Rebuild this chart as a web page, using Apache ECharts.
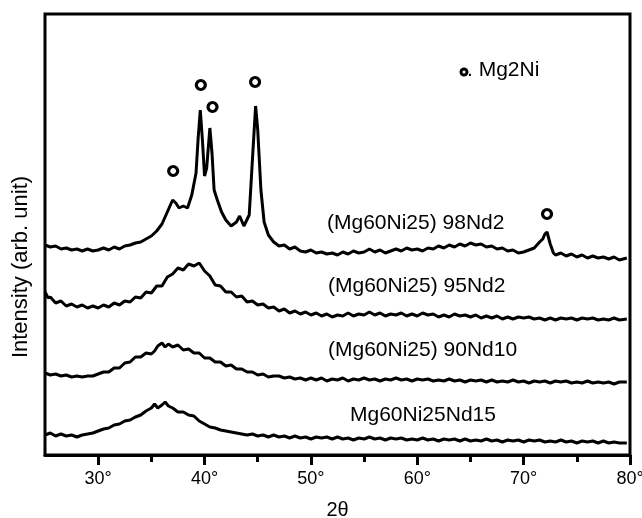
<!DOCTYPE html>
<html>
<head>
<meta charset="utf-8">
<title>XRD</title>
<script src="https://cdn.jsdelivr.net/npm/echarts@6/dist/echarts.min.js"></script>
<style>
	html, body { margin: 0; padding: 0; background: #fff; }
	#main { width: 642px; height: 518px; }
</style>
</head>
<body>
<div id="main"></div>
<script>
// 2θ 刻度
var majorTicks = [30, 40, 50, 60, 70, 80];
var minorTicks = [35, 45, 55, 65, 75];

// 各样品的衍射曲线 [2θ, 强度]
var xrd98Nd2 = [
	[25, 213], [25.5, 211], [26, 212], [26.5, 209], [27, 210], [27.5, 208], [28, 209], [28.5, 207],
	[29, 209], [29.5, 207], [30, 208], [30.5, 210], [31, 208], [31.5, 211], [32, 209], [32.5, 212],
	[33, 213], [33.5, 215], [34, 216], [34.5, 219], [35, 222], [35.5, 227], [36, 234], [36.5, 246],
	[37, 258], [37.3, 255], [37.6, 250], [38, 252], [38.4, 250], [38.8, 263], [39.2, 285], [39.4, 320],
	[39.6, 348], [39.8, 318], [40, 282], [40.2, 290], [40.5, 330], [40.7, 305], [40.9, 268], [41.2, 258],
	[41.6, 246], [42, 238], [42.5, 232], [43, 236], [43.3, 242], [43.7, 232], [44.2, 243], [44.5, 298],
	[44.8, 352], [45, 328], [45.3, 268], [45.6, 236], [46, 223], [46.5, 216], [47, 212], [47.5, 213],
	[48, 209], [48.5, 211], [49, 207], [49.5, 206], [50, 208], [50.5, 205], [51, 206], [51.5, 204],
	[52, 205], [52.5, 203], [53, 206], [53.5, 204], [54, 207], [54.5, 205], [55, 206], [55.5, 209],
	[56, 206], [56.5, 208], [57, 205], [57.5, 207], [58, 209], [58.5, 207], [59, 210], [59.5, 208],
	[60, 209], [60.5, 207], [61, 210], [61.5, 209], [62, 212], [62.5, 210], [63, 213], [63.5, 211],
	[64, 214], [64.5, 212], [65, 215], [65.5, 213], [66, 214], [66.5, 211], [67, 212], [67.5, 209],
	[68, 210], [68.5, 207], [69, 208], [69.5, 205], [70, 206], [70.5, 208], [71, 210], [71.5, 216],
	[71.8, 219], [72, 224], [72.2, 226], [72.5, 214], [72.8, 205], [73, 203], [73.5, 205], [74, 202],
	[74.5, 204], [75, 201], [75.5, 203], [76, 200], [76.5, 202], [77, 200], [77.5, 201], [78, 199],
	[78.5, 201], [79, 198], [79.7, 200]
];
var xrd95Nd2 = [
	[25, 166], [25.3, 160], [25.5, 161], [26, 155], [26.5, 157], [27, 152], [27.5, 154], [28, 151],
	[28.5, 153], [29, 150], [29.5, 152], [30, 150], [30.5, 153], [31, 151], [31.5, 155], [32, 153],
	[32.5, 157], [33, 156], [33.5, 161], [34, 160], [34.5, 166], [35, 165], [35.5, 172], [36, 172],
	[36.5, 181], [37, 184], [37.5, 190], [38, 188], [38.5, 194], [39, 192], [39.5, 195], [40, 187],
	[40.5, 182], [41, 173], [41.5, 172], [42, 166], [42.5, 166], [43, 161], [43.5, 162], [44, 156],
	[44.5, 157], [45, 153], [45.5, 154], [46, 150], [46.5, 151], [47, 147], [47.5, 149], [48, 145],
	[48.5, 147], [49, 144], [49.5, 146], [50, 143], [50.5, 145], [51, 142], [51.5, 144], [52, 141],
	[52.5, 143], [53, 142], [53.5, 145], [54, 142], [54.5, 144], [55, 143], [55.5, 146], [56, 143],
	[56.5, 145], [57, 142], [57.5, 144], [58, 143], [58.5, 145], [59, 142], [59.5, 144], [60, 142],
	[60.5, 145], [61, 143], [61.5, 144], [62, 141], [62.5, 143], [63, 141], [63.5, 144], [64, 142],
	[64.5, 143], [65, 141], [65.5, 143], [66, 140], [66.5, 142], [67, 140], [67.5, 142], [68, 139],
	[68.5, 141], [69, 139], [69.5, 141], [70, 140], [70.5, 141], [71, 139], [71.5, 140], [72, 138],
	[72.5, 140], [73, 138], [73.5, 140], [74, 139], [74.5, 140], [75, 138], [75.5, 140], [76, 139],
	[76.5, 140], [77, 138], [77.5, 139], [78, 138], [78.5, 140], [79, 138], [79.7, 139]
];
var xrd90Nd10 = [
	[25, 85], [25.5, 83], [26, 84], [26.5, 82], [27, 83], [27.5, 81], [28, 82], [28.5, 81],
	[29, 82], [29.5, 82], [30, 84], [30.5, 86], [31, 86], [31.5, 90], [32, 90], [32.5, 95],
	[33, 96], [33.5, 101], [34, 101], [34.5, 105], [35, 104], [35.3, 107], [35.6, 112], [36, 115],
	[36.3, 111], [36.6, 114], [37, 111], [37.5, 113], [38, 108], [38.5, 109], [39, 105], [39.5, 105],
	[40, 100], [40.5, 100], [41, 96], [41.5, 96], [42, 92], [42.5, 93], [43, 89], [43.5, 89],
	[44, 86], [44.5, 86], [45, 83], [45.5, 84], [46, 81], [46.5, 82], [47, 82], [47.5, 80],
	[48, 81], [48.5, 79], [49, 80], [49.5, 78], [50, 80], [50.5, 78], [51, 80], [51.5, 77],
	[52, 79], [52.5, 78], [53, 80], [53.5, 77], [54, 79], [54.5, 78], [55, 80], [55.5, 78],
	[56, 79], [56.5, 77], [57, 79], [57.5, 78], [58, 80], [58.5, 78], [59, 79], [59.5, 77],
	[60, 79], [60.5, 78], [61, 79], [61.5, 77], [62, 78], [62.5, 77], [63, 79], [63.5, 77],
	[64, 78], [64.5, 76], [65, 78], [65.5, 77], [66, 78], [66.5, 76], [67, 78], [67.5, 76],
	[68, 77], [68.5, 76], [69, 78], [69.5, 76], [70, 77], [70.5, 75], [71, 77], [71.5, 76],
	[72, 77], [72.5, 75], [73, 77], [73.5, 76], [74, 77], [74.5, 75], [75, 76], [75.5, 75],
	[76, 77], [76.5, 75], [77, 76], [77.5, 75], [78, 76], [78.5, 74], [79, 76], [79.7, 76]
];
var xrdNd15 = [
	[25, 23], [25.5, 25], [26, 22], [26.5, 24], [27, 22], [27.5, 23], [28, 21], [28.5, 23],
	[29, 24], [29.5, 25], [30, 27], [30.5, 29], [31, 30], [31.5, 33], [32, 34], [32.5, 37],
	[33, 38], [33.5, 41], [34, 43], [34.5, 47], [35, 50], [35.3, 54], [35.6, 50], [36, 53],
	[36.3, 56], [36.6, 52], [37, 50], [37.5, 46], [38, 46], [38.5, 43], [39, 42], [39.5, 37],
	[40, 34], [40.5, 31], [41, 30], [41.5, 28], [42, 27], [42.5, 26], [43, 25], [43.5, 24],
	[44, 23], [44.5, 24], [45, 22], [45.5, 23], [46, 21], [46.5, 23], [47, 21], [47.5, 22],
	[48, 20], [48.5, 22], [49, 20], [49.5, 21], [50, 19], [50.5, 21], [51, 20], [51.5, 21],
	[52, 19], [52.5, 21], [53, 19], [53.5, 20], [54, 18], [54.5, 20], [55, 19], [55.5, 21],
	[56, 19], [56.5, 20], [57, 18], [57.5, 20], [58, 19], [58.5, 20], [59, 18], [59.5, 19],
	[60, 18], [60.5, 20], [61, 18], [61.5, 19], [62, 17], [62.5, 19], [63, 18], [63.5, 19],
	[64, 17], [64.5, 19], [65, 17], [65.5, 18], [66, 17], [66.5, 19], [67, 17], [67.5, 18],
	[68, 16], [68.5, 18], [69, 17], [69.5, 18], [70, 16], [70.5, 18], [71, 17], [71.5, 18],
	[72, 16], [72.5, 17], [73, 16], [73.5, 18], [74, 16], [74.5, 17], [75, 15], [75.5, 17],
	[76, 16], [76.5, 17], [77, 15], [77.5, 17], [78, 15], [78.5, 16], [79, 15], [79.7, 15]
];
// Mg2Ni 衍射峰标记
var mg2niPeaks = [[37.05, 287], [39.65, 373], [40.75, 351], [44.75, 376], [72.2, 244]];

var FONT = 'Liberation Sans, Arial, Helvetica, sans-serif';

var chart = echarts.init(document.getElementById('main'), null, { renderer: 'canvas' });

function lineSeries(name, data) {
	return {
		name: name,
		type: 'line',
		data: data,
		showSymbol: false,
		symbol: 'none',
		lineStyle: { color: '#000', width: 3 },
		silent: true,
		z: 2
	};
}

var option = {
	animation: false,
	backgroundColor: '#fff',
	grid: {
		left: 45,
		right: 12,
		top: 14,
		bottom: 63,
		containLabel: false,
		outerBoundsMode: 'none',
		show: true,
		borderColor: '#000',
		borderWidth: 3
	},
	xAxis: [{
		type: 'value',
		min: 25,
		max: 80,
		position: 'bottom',
		name: '2θ',
		nameLocation: 'middle',
		nameGap: 45,
		nameTextStyle: { color: '#000', fontSize: 20, fontFamily: FONT },
		axisLine: { show: true, lineStyle: { color: '#000', width: 3 } },
		axisTick: {
			show: true,
			customValues: majorTicks,
			length: 10,
			lineStyle: { color: '#000', width: 3 }
		},
		axisLabel: {
			customValues: majorTicks,
			margin: 15,
			color: '#000',
			fontSize: 18,
			fontFamily: FONT,
			formatter: function(v) { return v + '°'; }
		},
		splitLine: { show: false }
	}, {
		type: 'value',
		min: 25,
		max: 80,
		position: 'bottom',
		axisLine: { show: false },
		axisTick: {
			show: true,
			customValues: minorTicks,
			length: 7,
			lineStyle: { color: '#000', width: 3 }
		},
		axisLabel: { show: false },
		splitLine: { show: false }
	}],
	yAxis: {
		type: 'value',
		min: 3,
		max: 444,
		axisLine: { show: false },
		axisTick: { show: false },
		axisLabel: { show: false },
		splitLine: { show: false }
	},
	series: [
		lineSeries('(Mg60Ni25) 98Nd2', xrd98Nd2),
		lineSeries('(Mg60Ni25) 95Nd2', xrd95Nd2),
		lineSeries('(Mg60Ni25) 90Nd10', xrd90Nd10),
		lineSeries('Mg60Ni25Nd15', xrdNd15),
		{
			name: 'Mg2Ni',
			type: 'scatter',
			data: mg2niPeaks,
			symbol: 'circle',
			symbolSize: 9,
			itemStyle: { color: '#fff', borderColor: '#000', borderWidth: 3.2, opacity: 1 },
			silent: true,
			z: 3
		}
	],
	graphic: [
		{ type: 'text', left: 327, top: 213, style: { text: '(Mg60Ni25) 98Nd2', fill: '#000', font: '21px ' + FONT } },
		{ type: 'text', left: 328, top: 276, style: { text: '(Mg60Ni25) 95Nd2', fill: '#000', font: '21px ' + FONT } },
		{ type: 'text', left: 328, top: 340, style: { text: '(Mg60Ni25) 90Nd10', fill: '#000', font: '21px ' + FONT } },
		{ type: 'text', left: 350, top: 405, style: { text: 'Mg60Ni25Nd15', fill: '#000', font: '21px ' + FONT } },
		{ type: 'circle', shape: { cx: 464, cy: 72, r: 3 }, style: { fill: '#fff', stroke: '#000', lineWidth: 3 } },
		{ type: 'text', left: 467, top: 60, style: { text: '. Mg2Ni', fill: '#000', font: '21px ' + FONT } },
		{
			type: 'text',
			x: 21,
			y: 267,
			rotation: Math.PI / 2,
			style: { text: 'Intensity (arb. unit)', fill: '#000', font: '22px ' + FONT, align: 'center', verticalAlign: 'middle' }
		}
	]
};

chart.setOption(option);
// 窗口缩放自适应
window.onresize = function() {
	chart.resize();
};
</script>
</body>
</html>
